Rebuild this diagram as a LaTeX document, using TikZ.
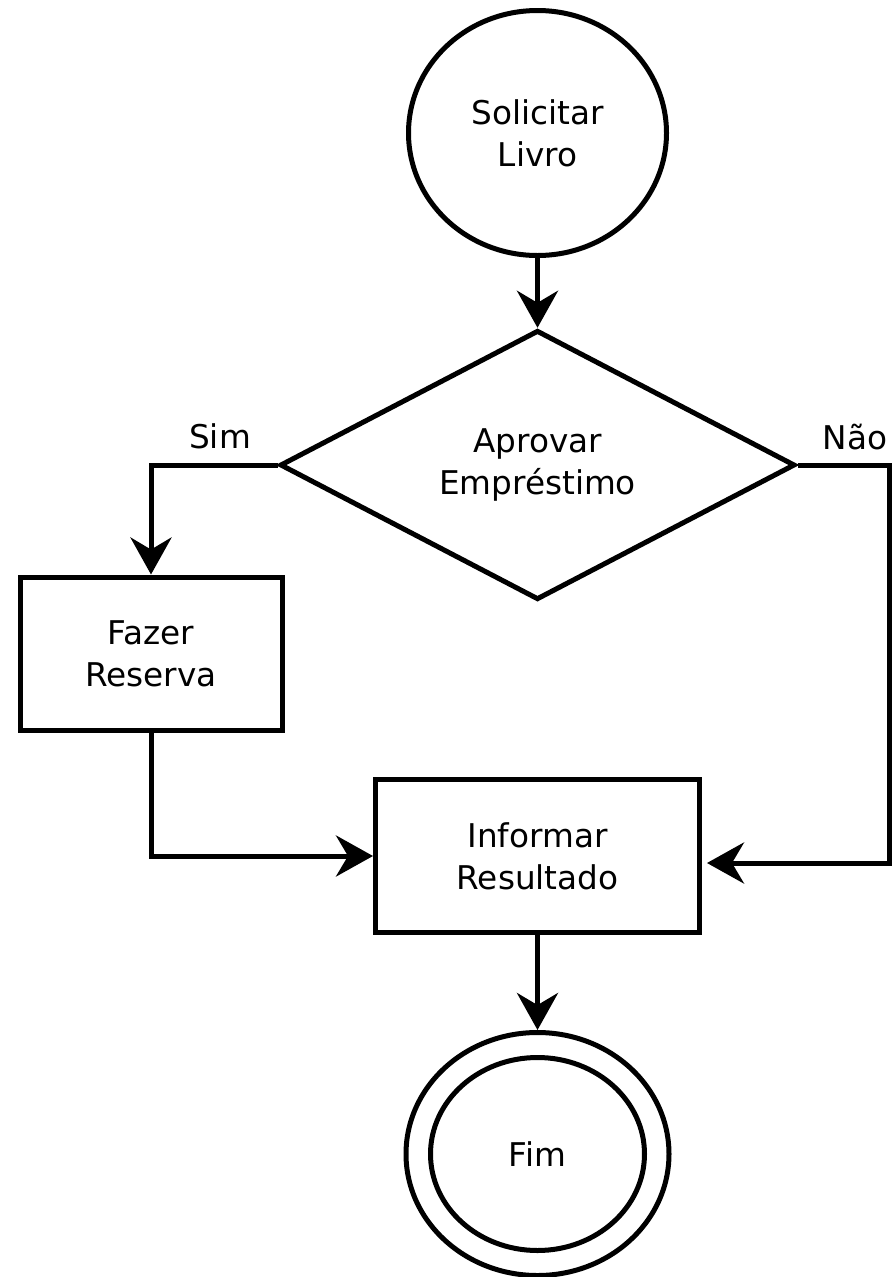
\documentclass[tikz,border=0pt]{standalone}
\usepackage{fontspec}
\setmainfont{DejaVu Sans}
\usepackage{tikz}
\usetikzlibrary{arrows.meta}
\usetikzlibrary{shapes.geometric}
\tikzset{>={Stealth[length=0.74cm,width=0.82cm]}}
\tikzset{
	texto/.style={font=\fontsize{18.6}{23.9}\selectfont, align=center},
	evento/.style={texto, ellipse, draw, line width=0.1cm, inner sep=0pt},
	decisao/.style={texto, diamond, draw, line width=0.1cm, inner sep=0pt},
	tarefa/.style={texto, rectangle, draw, line width=0.1cm, inner sep=0pt},
	fluxo/.style={line width=0.1cm, ->}
}

\begin{document}
\begin{tikzpicture}
	\useasboundingbox (0,0) rectangle (17.9,-25.54);
	% nos
	\node[evento, minimum width=5.16cm, minimum height=4.9cm] (solicitar) at (10.75,-2.66) {Solicitar\\Livro};
	\node[decisao, minimum width=10.3cm, minimum height=5.2cm] (aprovar) at (10.75,-9.30) {Aprovar\\Empréstimo};
	\node[tarefa, minimum width=5.24cm, minimum height=3.06cm] (reserva) at (3.02,-13.07) {Fazer\\Reserva};
	\node[tarefa, minimum width=6.48cm, minimum height=3.06cm] (informar) at (10.75,-17.12) {Informar\\Resultado};
	\node[evento, minimum width=5.26cm, minimum height=4.86cm] (fim) at (10.75,-23.08) {Fim};
	\node[evento, minimum width=4.28cm, minimum height=3.86cm] (fimin) at (fim) {};
	\node[texto] (sim) at (4.40,-8.72) {Sim};
	\node[texto] (nao) at (17.10,-8.74) {Não};
	\coordinate (volta) at (17.79,-9.30);
	% ligacoes
	\draw[fluxo] (solicitar) -- (aprovar);
	\draw[fluxo] (aprovar.west) -| (reserva.north);
	\draw[fluxo] (reserva.south) |- (informar.west);
	\draw[fluxo, shorten >=0.1cm] (aprovar.east) -- (volta) |- ([yshift=-0.14cm]informar.east);
	\draw[fluxo] (informar) -- (fim);
\end{tikzpicture}
\end{document}
